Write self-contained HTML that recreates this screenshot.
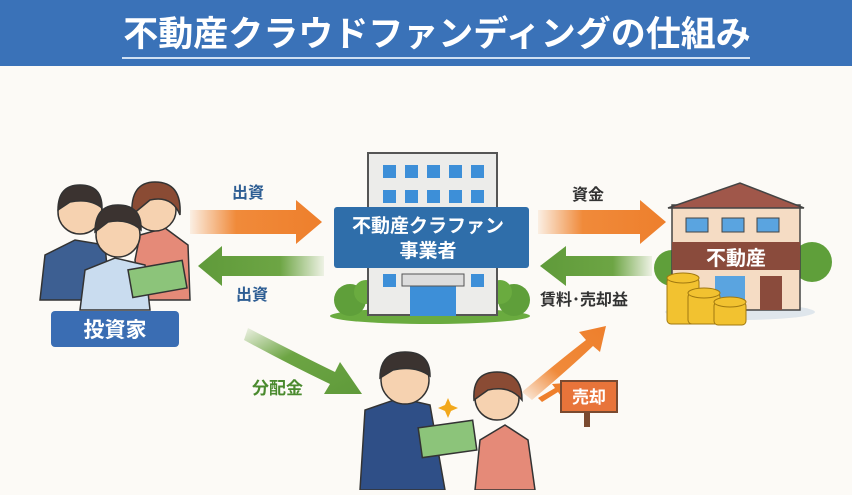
<!DOCTYPE html>
<html><head><meta charset="utf-8"><style>
body{margin:0;width:852px;height:490px;overflow:hidden;background:#fcfaf6;font-family:"Liberation Sans","Noto Sans CJK JP",sans-serif}
</style></head><body>
<svg width="852" height="490" viewBox="0 0 852 490" xmlns="http://www.w3.org/2000/svg" font-family="Liberation Sans, Noto Sans CJK JP, sans-serif" font-weight="bold">
<defs>
<linearGradient id="og" x1="0" x2="1"><stop offset="0" stop-color="#f08a3a" stop-opacity="0.1"/><stop offset="0.35" stop-color="#f08a3a"/><stop offset="1" stop-color="#ee7f2c"/></linearGradient>
<linearGradient id="gg" x1="1" x2="0"><stop offset="0" stop-color="#6da544" stop-opacity="0.1"/><stop offset="0.35" stop-color="#6da544"/><stop offset="1" stop-color="#5f9a3a"/></linearGradient>
<linearGradient id="gd" x1="0" y1="0" x2="1" y2="1"><stop offset="0" stop-color="#6da544" stop-opacity="0.1"/><stop offset="0.4" stop-color="#6da544"/><stop offset="1" stop-color="#5f9a3a"/></linearGradient>
<linearGradient id="ou" x1="0" y1="1" x2="1" y2="0"><stop offset="0" stop-color="#f08a3a" stop-opacity="0.1"/><stop offset="0.4" stop-color="#f08a3a"/><stop offset="1" stop-color="#ee7f2c"/></linearGradient>
</defs>
<rect width="852" height="66" fill="#3a72b8"/>
<text x="437" y="46" font-size="35" fill="#fff" text-anchor="middle">不動産クラウドファンディングの仕組み</text>
<line x1="122" y1="58" x2="750" y2="58" stroke="#cfe0f3" stroke-width="2"/>

<polygon points="190,210 296,210 296,200 322,222 296,244 296,234 190,234" fill="url(#og)"/>
<polygon points="324,256 222,256 222,246 198,266 222,286 222,276 324,276" fill="url(#gg)"/>
<polygon points="538,210 640,210 640,200 666,222 640,244 640,234 538,234" fill="url(#og)"/>
<polygon points="652,256 566,256 566,246 540,266 566,286 566,276 652,276" fill="url(#gg)"/>
<path d="M248,328 Q300,355 335,372 L340,362 L362,394 L324,394 L330,384 Q290,365 244,340 Z" fill="url(#gd)"/>
<path d="M522,392 Q560,360 586,340 L579,332 L606,326 L600,352 L593,346 Q570,368 532,400 Z" fill="url(#ou)"/>
<path d="M538,398 L555,388 L552,384 L566,383 L561,396 L558,392 L542,402 Z" fill="#ee7f2c"/>

<g fill="#2d5d93" font-size="16">
<text x="232" y="198">出資</text><text x="236" y="300">出資</text>
</g>
<text x="572" y="200" font-size="16" fill="#333">資金</text>
<text x="540" y="305" font-size="16" fill="#333">賃料･売却益</text>
<text x="252" y="394" font-size="17" fill="#4a8a2e">分配金</text>

<g stroke="#333" stroke-width="1.5">
<path d="M40,300 L45,255 L75,240 L105,245 L110,300 Z" fill="#3d5f92"/>
<circle cx="80" cy="212" r="22" fill="#f6d2b0"/>
<path d="M58,210 Q58,185 80,185 Q102,185 102,208 Q90,198 70,202 Z" fill="#3b3330"/>
<path d="M135,260 L140,235 L165,228 L188,245 L190,300 L140,300 Z" fill="#e58a78"/>
<circle cx="155" cy="210" r="21" fill="#f6d2b0"/>
<path d="M132,215 Q130,182 155,182 Q182,182 180,215 Q172,195 150,200 Z" fill="#8a4b34"/>
<path d="M80,310 L85,270 L115,258 L145,265 L150,310 Z" fill="#c9dcef"/>
<circle cx="118" cy="235" r="22" fill="#f6d2b0"/>
<path d="M95,232 Q95,205 118,205 Q142,205 141,230 Q128,218 108,222 Z" fill="#3b3330"/>
<rect x="130" y="265" width="55" height="28" fill="#8cc47a" transform="rotate(-10 157 279)"/>
</g>
<rect x="51" y="311" width="128" height="36" rx="4" fill="#3a6db3"/>
<text x="115" y="337" font-size="21" fill="#fff" text-anchor="middle">投資家</text>

<ellipse cx="430" cy="316" rx="100" ry="8" fill="#6aab3f"/>
<circle cx="350" cy="300" r="16" fill="#5f9f3a"/><circle cx="366" cy="292" r="12" fill="#6aab3f"/>
<circle cx="514" cy="300" r="16" fill="#5f9f3a"/><circle cx="500" cy="292" r="12" fill="#6aab3f"/>
<rect x="368" y="153" width="129" height="162" fill="#ececea" stroke="#555" stroke-width="2"/>
<g fill="#3d8fd8">
<rect x="383" y="165" width="13" height="13"/><rect x="405" y="165" width="13" height="13"/><rect x="427" y="165" width="13" height="13"/><rect x="449" y="165" width="13" height="13"/><rect x="471" y="165" width="13" height="13"/>
<rect x="383" y="190" width="13" height="13"/><rect x="405" y="190" width="13" height="13"/><rect x="427" y="190" width="13" height="13"/><rect x="449" y="190" width="13" height="13"/><rect x="471" y="190" width="13" height="13"/>
<rect x="383" y="274" width="13" height="13"/><rect x="471" y="274" width="13" height="13"/>
<rect x="410" y="286" width="46" height="30"/>
</g>
<rect x="402" y="274" width="62" height="12" fill="#ddd" stroke="#555"/>
<rect x="334" y="207" width="195" height="61" rx="3" fill="#2f6eaa"/>
<text x="428" y="232" font-size="19" fill="#fff" text-anchor="middle">不動産クラファン</text>
<text x="428" y="257" font-size="19" fill="#fff" text-anchor="middle">事業者</text>

<circle cx="672" cy="268" r="18" fill="#5f9f3a"/><circle cx="812" cy="262" r="20" fill="#5f9f3a"/>
<ellipse cx="740" cy="312" rx="75" ry="8" fill="#dfe6ec"/>
<rect x="672" y="205" width="128" height="105" fill="#f5dcc4" stroke="#444" stroke-width="1.5"/>
<polygon points="668,208 740,183 804,208" fill="#a0574a" stroke="#444" stroke-width="1.5"/>
<rect x="686" y="218" width="22" height="14" fill="#5aa4e0" stroke="#444"/><rect x="722" y="218" width="22" height="14" fill="#5aa4e0" stroke="#444"/><rect x="757" y="218" width="22" height="14" fill="#5aa4e0" stroke="#444"/>
<rect x="672" y="242" width="128" height="28" fill="#8a4b3c"/>
<text x="736" y="265" font-size="20" fill="#fff" text-anchor="middle">不動産</text>
<rect x="715" y="276" width="30" height="34" fill="#5aa4e0"/><rect x="760" y="276" width="22" height="34" fill="#8a4b3c"/>
<g fill="#f2c230" stroke="#a07810" stroke-width="1">
<rect x="667" y="278" width="32" height="46" rx="4"/><ellipse cx="683" cy="278" rx="16" ry="5"/>
<rect x="688" y="293" width="32" height="31" rx="4"/><ellipse cx="704" cy="293" rx="16" ry="5"/>
<rect x="714" y="302" width="32" height="23" rx="4"/><ellipse cx="730" cy="302" rx="16" ry="5"/>
</g>

<g stroke="#333" stroke-width="1.5">
<path d="M360,490 L365,410 L400,398 L430,405 L445,490 Z" fill="#2f4f87"/>
<circle cx="405" cy="380" r="24" fill="#f6d2b0"/>
<path d="M380,378 Q380,352 405,352 Q430,352 430,376 Q415,365 393,370 Z" fill="#3b3330"/>
<path d="M475,490 L480,440 L505,425 L528,440 L535,490 Z" fill="#e58a78"/>
<circle cx="497" cy="398" r="22" fill="#f6d2b0"/>
<path d="M474,400 Q472,372 497,372 Q522,372 522,400 Q510,385 488,390 Z" fill="#8a4b34"/>
<rect x="420" y="424" width="55" height="30" fill="#8cc47a" transform="rotate(-8 447 439)"/>
</g>
<path d="M448,398 l3,7 7,3 -7,3 -3,7 -3,-7 -7,-3 7,-3z" fill="#f2a81c"/>
<rect x="584" y="405" width="6" height="22" fill="#7a4a30"/>
<rect x="561" y="381" width="56" height="31" fill="#e8743a" stroke="#7a4a30" stroke-width="2"/>
<text x="589" y="403" font-size="17" fill="#fff" text-anchor="middle">売却</text>
</svg>
</body></html>
